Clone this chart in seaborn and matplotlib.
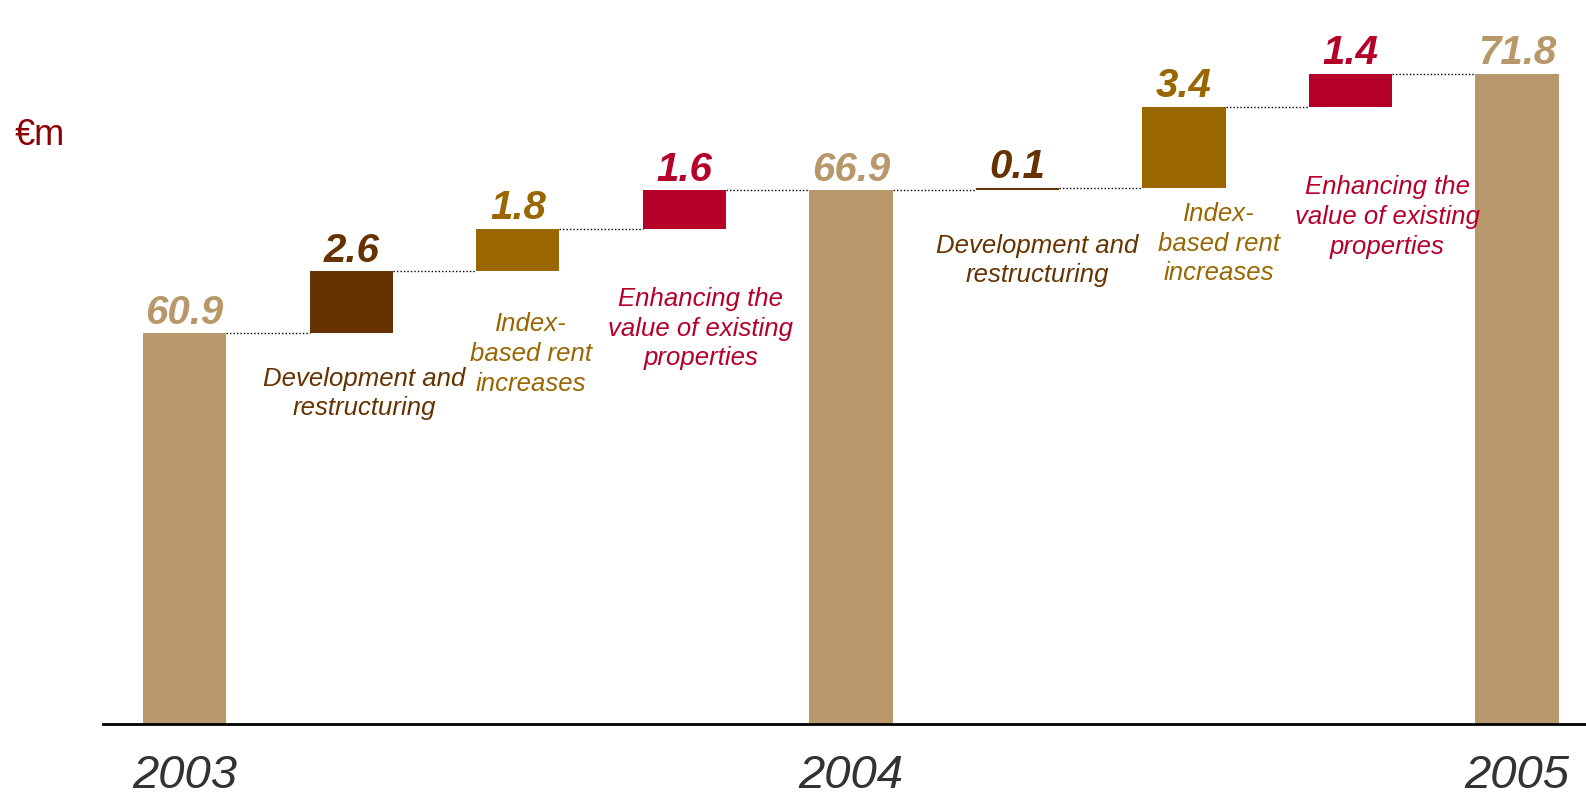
import matplotlib
matplotlib.use("Agg")
import matplotlib.pyplot as plt
import seaborn as sns
import pandas as pd
import numpy as np

# ---- data ----
steps = ["2003", "dev1", "idx1", "enh1", "2004", "dev2", "idx2", "enh2", "2005"]
kinds = ["total", "dev", "idx", "enh", "total", "dev", "idx", "enh", "total"]
values = [60.9, 2.6, 1.8, 1.6, 66.9, 0.1, 3.4, 1.4, 71.8]
value_labels = ["60.9", "2.6", "1.8", "1.6", "66.9", "0.1", "3.4", "1.4", "71.8"]
year_labels = ["2003", "2004", "2005"]
category_text = {
    "dev": "Development and\nrestructuring",
    "idx": "Index-\nbased rent\nincreases",
    "enh": "Enhancing the\nvalue of existing\nproperties",
}
unit_label = "€m"

# ---- styles ----
colors = {"total": "#B8986A", "dev": "#663300", "idx": "#996600", "enh": "#B5002A"}
# caption offsets: (x offset in category units, points below bar bottom)
caption_offsets = {1: (0.08, 24), 2: (0.08, 29.5), 3: (0.10, 42),
                   5: (0.12, 31), 6: (0.21, 10), 7: (0.22, 49)}

# waterfall bottoms/heights
bottoms, heights = [], []
running = 0.0
for k, v in zip(kinds, values):
    if k == "total":
        bottoms.append(0.0)
        heights.append(v)
        running = v
    else:
        bottoms.append(running)
        heights.append(v)
        running += v
tops = [b + h for b, h in zip(bottoms, heights)]

df = pd.DataFrame({"step": steps, "height": heights})

sns.set_theme(style="white")
plt.rcParams["font.family"] = ["Liberation Sans", "DejaVu Sans"]

fig = plt.figure(figsize=(15.86, 7.99), dpi=100)
ax = fig.add_axes([0.065, 0.094, 0.935, 0.906])

sns.barplot(data=df, x="step", y="height", order=steps, bottom=bottoms,
            width=0.5, color=colors["total"], linewidth=0, ax=ax, errorbar=None)
for patch, k in zip(ax.patches, kinds):
    patch.set_facecolor(colors[k])
    patch.set_edgecolor("none")

ax.set_ylim(44.5, 74.9)
ax.set_xlim(-0.49, 8.414)

# connectors
for i in range(len(steps) - 1):
    ax.plot([i + 0.25, i + 1 - 0.25], [tops[i], tops[i]], linestyle=(0, (1, 1.5)),
            color="black", linewidth=1.0, zorder=3)

# value labels
for i, (k, lab) in enumerate(zip(kinds, value_labels)):
    ax.annotate(lab, xy=(i, tops[i]), xytext=(0, 7), textcoords="offset points",
                ha="center", va="baseline", fontsize=29, fontweight="bold",
                fontstyle="italic", color=colors[k])

# captions
for i, (dx, dy) in caption_offsets.items():
    k = kinds[i]
    ax.annotate(category_text[k], xy=(i + dx, bottoms[i]), xytext=(0, -dy),
                textcoords="offset points", ha="center", va="top", fontsize=18.5,
                fontstyle="italic", color=colors[k], linespacing=1.3)

# axes styling
ax.set_xticks([0, 4, 8])
ax.set_xticklabels(year_labels, fontsize=34, fontstyle="italic", color="#333333")
ax.tick_params(axis="x", length=0, pad=22)
ax.set_yticks([])
ax.set_xlabel("")
ax.set_ylabel("")
for s in ["top", "right", "left"]:
    ax.spines[s].set_visible(False)
ax.spines["bottom"].set_color("black")
ax.spines["bottom"].set_linewidth(2)
ax.set_facecolor("white")
fig.patch.set_facecolor("white")

fig.text(0.009, 0.83, unit_label, fontsize=26, color="#8B0000", ha="left", va="center")

fig.savefig("out.png", dpi=100, facecolor="white")
